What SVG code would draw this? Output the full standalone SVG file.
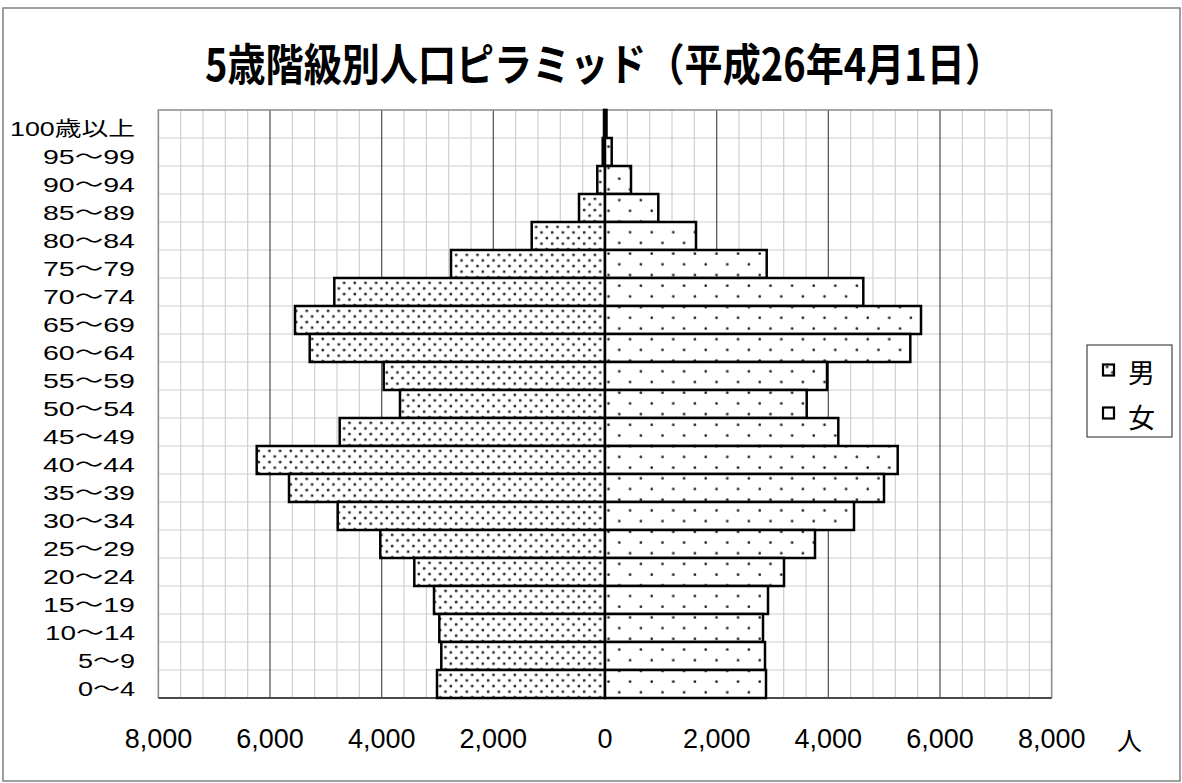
<svg xmlns="http://www.w3.org/2000/svg" width="1182" height="783" viewBox="0 0 1182 783">
<style>
.ttl{font-family:"Noto Sans CJK JP",sans-serif;font-weight:bold;font-size:44px;fill:#000}
.yl{font-family:"Liberation Sans","Noto Sans CJK JP",sans-serif;font-size:20px;fill:#000;text-anchor:end}
.xl{font-family:"Liberation Sans","Noto Sans CJK JP",sans-serif;font-size:27px;fill:#000;text-anchor:middle}
.lg{font-family:"Noto Sans CJK JP",sans-serif;font-size:27px;fill:#000}
.m{fill:url(#pm);stroke:#000;stroke-width:2.5}
.f{fill:url(#pf);stroke:#000;stroke-width:2.5}
</style>
<defs>
<pattern id="pm" patternUnits="userSpaceOnUse" width="10.67" height="11.2" x="0" y="112">
<rect width="10.67" height="11.2" fill="#fff"/>
<circle cx="2.7" cy="2.8" r="1.45" fill="#2a2a2a"/>
<circle cx="8.03" cy="8.4" r="1.45" fill="#2a2a2a"/>
</pattern>
<pattern id="pf" patternUnits="userSpaceOnUse" width="21.6" height="21.4" x="0" y="110">
<rect width="21.6" height="21.4" fill="#fff"/>
<circle cx="14.5" cy="4.5" r="1.35" fill="#222"/>
<circle cx="3.7" cy="15.2" r="1.35" fill="#222"/>
</pattern>
</defs>
<rect x="0" y="0" width="1182" height="783" fill="#fff"/>
<rect x="3" y="8" width="1177" height="773" fill="none" stroke="#808080" stroke-width="1.5"/>
<text class="ttl" x="205" y="81" textLength="798" lengthAdjust="spacingAndGlyphs">5歳階級別人口ピラミッド（平成26年4月1日）</text>
<g id="grid">
<path fill="none" stroke="#cfcfcf" stroke-width="1.2" d="M180.67 110V698M203 110V698M225.33 110V698M247.67 110V698M292.33 110V698M314.67 110V698M337 110V698M359.33 110V698M404 110V698M426.33 110V698M448.67 110V698M471 110V698M515.67 110V698M538 110V698M560.33 110V698M582.67 110V698M627.33 110V698M649.67 110V698M672 110V698M694.33 110V698M739 110V698M761.33 110V698M783.67 110V698M806 110V698M850.67 110V698M873 110V698M895.33 110V698M917.67 110V698M962.33 110V698M984.67 110V698M1007 110V698M1029.33 110V698"/>
<path fill="none" stroke="#cfcfcf" stroke-width="1.2" d="M158.33 138H1051.67M158.33 166H1051.67M158.33 194H1051.67M158.33 222H1051.67M158.33 250H1051.67M158.33 278H1051.67M158.33 306H1051.67M158.33 334H1051.67M158.33 362H1051.67M158.33 390H1051.67M158.33 418H1051.67M158.33 446H1051.67M158.33 474H1051.67M158.33 502H1051.67M158.33 530H1051.67M158.33 558H1051.67M158.33 586H1051.67M158.33 614H1051.67M158.33 642H1051.67M158.33 670H1051.67"/>
<path fill="none" stroke="#5a5a5a" stroke-width="1.3" d="M270 110V698M381.67 110V698M493.33 110V698M605 110V698M716.67 110V698M828.33 110V698M940 110V698"/>
<path fill="none" stroke="#8c8c8c" stroke-width="1.6" d="M158.33 698V110H1051.67V698"/>
<path fill="none" stroke="#4a4a4a" stroke-width="2" d="M158.33 698H1051.67"/>
</g>
<g id="male">
<rect class="m" x="604" y="110" width="1" height="28"/>
<rect class="m" x="602.7" y="138" width="2.3" height="28"/>
<rect class="m" x="597.3" y="166" width="7.7" height="28"/>
<rect class="m" x="579" y="194" width="26" height="28"/>
<rect class="m" x="531.7" y="222" width="73.3" height="28"/>
<rect class="m" x="451" y="250" width="154" height="28"/>
<rect class="m" x="334.3" y="278" width="270.7" height="28"/>
<rect class="m" x="295" y="306" width="310" height="28"/>
<rect class="m" x="309.7" y="334" width="295.3" height="28"/>
<rect class="m" x="383.7" y="362" width="221.3" height="28"/>
<rect class="m" x="400" y="390" width="205" height="28"/>
<rect class="m" x="339.7" y="418" width="265.3" height="28"/>
<rect class="m" x="256.7" y="446" width="348.3" height="28"/>
<rect class="m" x="289" y="474" width="316" height="28"/>
<rect class="m" x="337.7" y="502" width="267.3" height="28"/>
<rect class="m" x="380.3" y="530" width="224.7" height="28"/>
<rect class="m" x="414.3" y="558" width="190.7" height="28"/>
<rect class="m" x="434" y="586" width="171" height="28"/>
<rect class="m" x="439.3" y="614" width="165.7" height="28"/>
<rect class="m" x="441.3" y="642" width="163.7" height="28"/>
<rect class="m" x="437" y="670" width="168" height="28"/>
</g>
<g id="female">
<rect class="f" x="605" y="110" width="1.5" height="28"/>
<rect class="f" x="605" y="138" width="6.7" height="28"/>
<rect class="f" x="605" y="166" width="26" height="28"/>
<rect class="f" x="605" y="194" width="53.3" height="28"/>
<rect class="f" x="605" y="222" width="91" height="28"/>
<rect class="f" x="605" y="250" width="161.7" height="28"/>
<rect class="f" x="605" y="278" width="258.3" height="28"/>
<rect class="f" x="605" y="306" width="316" height="28"/>
<rect class="f" x="605" y="334" width="305.3" height="28"/>
<rect class="f" x="605" y="362" width="222" height="28"/>
<rect class="f" x="605" y="390" width="201.7" height="28"/>
<rect class="f" x="605" y="418" width="233.3" height="28"/>
<rect class="f" x="605" y="446" width="292.7" height="28"/>
<rect class="f" x="605" y="474" width="279" height="28"/>
<rect class="f" x="605" y="502" width="249" height="28"/>
<rect class="f" x="605" y="530" width="210" height="28"/>
<rect class="f" x="605" y="558" width="179" height="28"/>
<rect class="f" x="605" y="586" width="163" height="28"/>
<rect class="f" x="605" y="614" width="158" height="28"/>
<rect class="f" x="605" y="642" width="160" height="28"/>
<rect class="f" x="605" y="670" width="161" height="28"/>
</g>
<g id="ylabels">
<text class="yl" x="135" y="136" textLength="125" lengthAdjust="spacingAndGlyphs">100歳以上</text>
<text class="yl" x="135" y="164" textLength="92" lengthAdjust="spacingAndGlyphs">95～99</text>
<text class="yl" x="135" y="192" textLength="92" lengthAdjust="spacingAndGlyphs">90～94</text>
<text class="yl" x="135" y="220" textLength="92" lengthAdjust="spacingAndGlyphs">85～89</text>
<text class="yl" x="135" y="248" textLength="92" lengthAdjust="spacingAndGlyphs">80～84</text>
<text class="yl" x="135" y="276" textLength="92" lengthAdjust="spacingAndGlyphs">75～79</text>
<text class="yl" x="135" y="304" textLength="92" lengthAdjust="spacingAndGlyphs">70～74</text>
<text class="yl" x="135" y="332" textLength="92" lengthAdjust="spacingAndGlyphs">65～69</text>
<text class="yl" x="135" y="360" textLength="92" lengthAdjust="spacingAndGlyphs">60～64</text>
<text class="yl" x="135" y="388" textLength="92" lengthAdjust="spacingAndGlyphs">55～59</text>
<text class="yl" x="135" y="416" textLength="92" lengthAdjust="spacingAndGlyphs">50～54</text>
<text class="yl" x="135" y="444" textLength="92" lengthAdjust="spacingAndGlyphs">45～49</text>
<text class="yl" x="135" y="472" textLength="92" lengthAdjust="spacingAndGlyphs">40～44</text>
<text class="yl" x="135" y="500" textLength="92" lengthAdjust="spacingAndGlyphs">35～39</text>
<text class="yl" x="135" y="528" textLength="92" lengthAdjust="spacingAndGlyphs">30～34</text>
<text class="yl" x="135" y="556" textLength="92" lengthAdjust="spacingAndGlyphs">25～29</text>
<text class="yl" x="135" y="584" textLength="92" lengthAdjust="spacingAndGlyphs">20～24</text>
<text class="yl" x="135" y="612" textLength="92" lengthAdjust="spacingAndGlyphs">15～19</text>
<text class="yl" x="135" y="640" textLength="90" lengthAdjust="spacingAndGlyphs">10～14</text>
<text class="yl" x="135" y="668" textLength="57" lengthAdjust="spacingAndGlyphs">5～9</text>
<text class="yl" x="135" y="696" textLength="57" lengthAdjust="spacingAndGlyphs">0～4</text>
</g>
<g id="xlabels">
<text class="xl" x="158.5" y="748">8,000</text>
<text class="xl" x="270" y="748">6,000</text>
<text class="xl" x="381.7" y="748">4,000</text>
<text class="xl" x="493.3" y="748">2,000</text>
<text class="xl" x="605" y="748">0</text>
<text class="xl" x="716.7" y="748">2,000</text>
<text class="xl" x="828.3" y="748">4,000</text>
<text class="xl" x="940" y="748">6,000</text>
<text class="xl" x="1051.7" y="748">8,000</text>
<text class="lg" x="1117" y="750" style="font-size:25px">人</text>
</g>
<g id="legend">
<rect x="1087" y="345" width="85" height="92" fill="#fff" stroke="#444" stroke-width="1.2"/>
<rect x="1103" y="364.5" width="11" height="11" fill="url(#pm)" stroke="#000" stroke-width="2.2"/>
<text class="lg" x="1128" y="383">男</text>
<rect x="1103" y="407.5" width="11" height="11" fill="#fff" stroke="#000" stroke-width="2.2"/>
<text class="lg" x="1128" y="428">女</text>
</g>
</svg>
